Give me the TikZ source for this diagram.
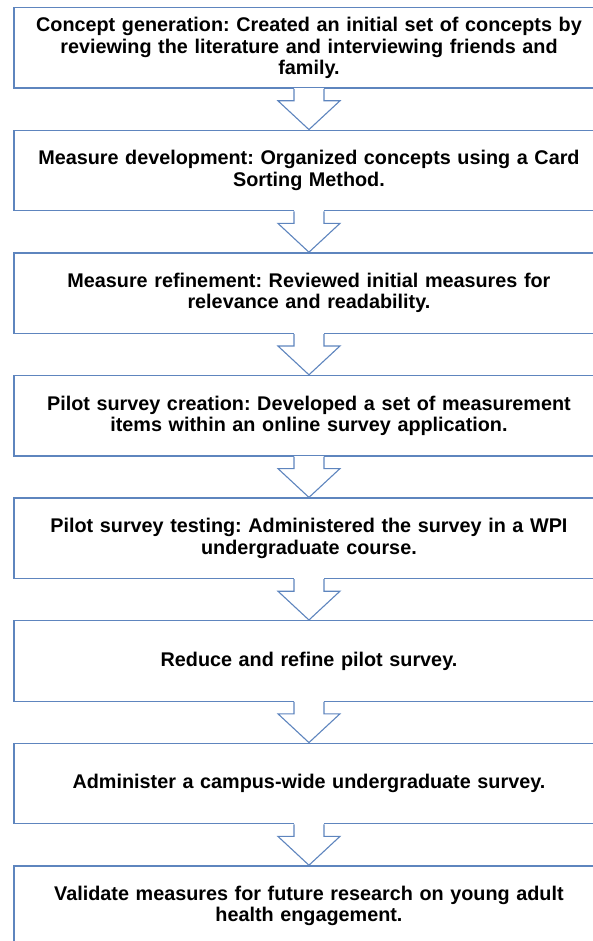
\documentclass[tikz,border=0pt]{standalone}
\usepackage{fontspec}
\setmainfont{Liberation Sans}
\definecolor{stageblue}{RGB}{94,133,190}
\usetikzlibrary{positioning, calc}

\begin{document}
\frenchspacing
\begin{tikzpicture}[x=1pt, y=1pt,
  stagebox/.style={draw=stageblue, line width=1.3pt, fill=white, minimum width=590pt,
    minimum height=80.5pt, text width=580pt, align=center, inner sep=0pt,
    font=\fontsize{19.8}{21.5}\selectfont\bfseries},
  flowarrow/.style={draw=stageblue, line width=1.1pt, fill=white, line join=miter}]
  \clip (0,0) rectangle (593,-941);
  \useasboundingbox (0,0) rectangle (593,-941);

  % Stages
  \node[stagebox, anchor=north west] (s1) at (13.3,-7) {Concept generation: Created an initial set of concepts by\\reviewing the literature and interviewing friends and\\family.};
  \node[stagebox, below=40.8pt of s1] (s2) {Measure development: Organized concepts using a Card\\Sorting Method.};
  \node[stagebox, below=40.8pt of s2] (s3) {Measure refinement: Reviewed initial measures for\\relevance and readability.};
  \node[stagebox, below=40.8pt of s3] (s4) {Pilot survey creation: Developed a set of measurement\\items within an online survey application.};
  \node[stagebox, below=40.8pt of s4] (s5) {Pilot survey testing: Administered the survey in a WPI\\undergraduate course.};
  \node[stagebox, below=40.8pt of s5] (s6) {Reduce and refine pilot survey.};
  \node[stagebox, below=40.8pt of s6] (s7) {Administer a campus-wide undergraduate survey.};
  \node[stagebox, below=40.8pt of s7] (s8) {Validate measures for future research on young adult\\health engagement.};

  % Block arrows between stages
  \foreach \a/\b in {s1/s2, s2/s3, s3/s4, s4/s5, s5/s6, s6/s7, s7/s8} {
    \fill[white] ($(\a.south)+(-15,1)$) rectangle ($(\a.south)+(15,-12)$);
    \draw[flowarrow] ($(\a.south)+(-15,0)$) -- ++(0,-12) -- ++(-16,0) -- (\b.north)
      -- ($(\a.south)+(31,-12)$) -- ++(-16,0) -- ++(0,12);
  }
\end{tikzpicture}
\end{document}
